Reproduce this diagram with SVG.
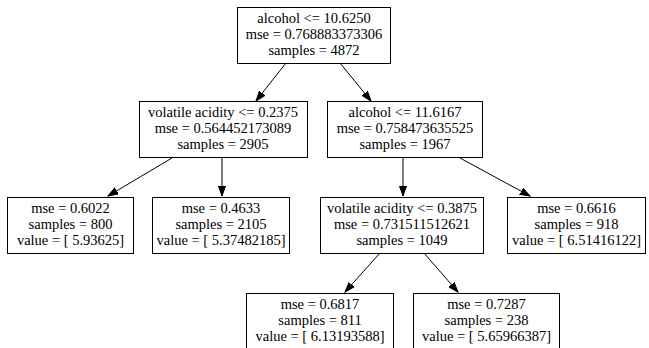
<svg xmlns="http://www.w3.org/2000/svg" width="649" height="348" viewBox="0 0 649 348">
<defs>
<marker id="arr" markerUnits="userSpaceOnUse" markerWidth="11" markerHeight="8" refX="10" refY="4" orient="auto">
<path d="M0,0.5 L10,4 L0,7.5 Z" fill="#000" stroke="#000" stroke-width="1"/>
</marker>
<style>
.box{fill:#fff;stroke:#000;stroke-width:1}
.t{font-family:"Liberation Serif","Times New Roman",serif;font-size:14.5px;text-anchor:middle;fill:#000}
.e{stroke:#000;stroke-width:1;fill:none;marker-end:url(#arr)}
</style>
</defs>
<rect width="649" height="348" fill="#fff"/>
<g id="edges">
<line class="e" x1="286" y1="63" x2="256" y2="101"/>
<line class="e" x1="340" y1="63" x2="371" y2="101"/>
<line class="e" x1="172" y1="158" x2="108" y2="196"/>
<line class="e" x1="222" y1="158" x2="222" y2="196"/>
<line class="e" x1="403" y1="158" x2="403" y2="196"/>
<line class="e" x1="460" y1="158" x2="530" y2="196"/>
<line class="e" x1="380" y1="253" x2="345" y2="292"/>
<line class="e" x1="424" y1="253" x2="458" y2="292"/>
</g>
<g id="n0">
<rect class="box" x="237.5" y="7.5" width="153" height="56"/>
<text class="t" x="314" y="23">alcohol &lt;= 10.6250</text>
<text class="t" x="314" y="39">mse = 0.768883373306</text>
<text class="t" x="314" y="55">samples = 4872</text>
</g>
<g id="n1">
<rect class="box" x="139.5" y="101.5" width="168" height="56"/>
<text class="t" x="223" y="117">volatile acidity &lt;= 0.2375</text>
<text class="t" x="223" y="133">mse = 0.564452173089</text>
<text class="t" x="223" y="149">samples = 2905</text>
</g>
<g id="n2">
<rect class="box" x="327.5" y="101.5" width="155" height="56"/>
<text class="t" x="405" y="117">alcohol &lt;= 11.6167</text>
<text class="t" x="405" y="133">mse = 0.758473635525</text>
<text class="t" x="405" y="149">samples = 1967</text>
</g>
<g id="n3">
<rect class="box" x="7.5" y="197.5" width="126" height="56"/>
<text class="t" x="70.5" y="213">mse = 0.6022</text>
<text class="t" x="70.5" y="229">samples = 800</text>
<text class="t" x="70.5" y="245">value = [ 5.93625]</text>
</g>
<g id="n4">
<rect class="box" x="152.5" y="197.5" width="137" height="56"/>
<text class="t" x="221" y="213">mse = 0.4633</text>
<text class="t" x="221" y="229">samples = 2105</text>
<text class="t" x="221" y="245">value = [ 5.37482185]</text>
</g>
<g id="n5">
<rect class="box" x="320.5" y="197.5" width="163" height="56"/>
<text class="t" x="402" y="213">volatile acidity &lt;= 0.3875</text>
<text class="t" x="402" y="229">mse = 0.731511512621</text>
<text class="t" x="402" y="245">samples = 1049</text>
</g>
<g id="n6">
<rect class="box" x="507.5" y="197.5" width="138" height="56"/>
<text class="t" x="576.5" y="213">mse = 0.6616</text>
<text class="t" x="576.5" y="229">samples = 918</text>
<text class="t" x="576.5" y="245">value = [ 6.51416122]</text>
</g>
<g id="n7">
<rect class="box" x="246.5" y="293.5" width="147" height="56"/>
<text class="t" x="320" y="309">mse = 0.6817</text>
<text class="t" x="320" y="325">samples = 811</text>
<text class="t" x="320" y="341">value = [ 6.13193588]</text>
</g>
<g id="n8">
<rect class="box" x="413.5" y="293.5" width="146" height="56"/>
<text class="t" x="486.5" y="309">mse = 0.7287</text>
<text class="t" x="486.5" y="325">samples = 238</text>
<text class="t" x="486.5" y="341">value = [ 5.65966387]</text>
</g>
</svg>
